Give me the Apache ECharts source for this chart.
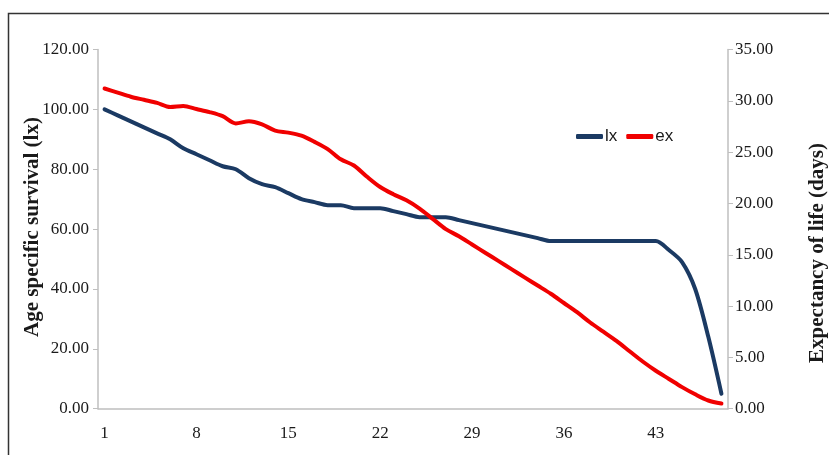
<!DOCTYPE html>
<html>
<head>
<meta charset="utf-8">
<script src="https://cdn.jsdelivr.net/npm/echarts@6/dist/echarts.min.js"></script>
<style>
  html, body { margin: 0; padding: 0; background: #ffffff; }
  #chart { width: 829px; height: 455px; }
</style>
</head>
<body>
<div id="chart"></div>
<script>
// Day of life (age class)
const days = Array.from({ length: 48 }, (_, i) => String(i + 1));

// Age specific survival (lx), left axis
const lx = [100, 98, 96, 94, 92, 90, 87, 85, 83, 81,
            80, 77, 75, 74, 72, 70, 69, 68, 68, 67,
            67, 67, 66, 65, 64, 64, 64, 63, 62, 61,
            60, 59, 58, 57, 56, 56, 56, 56, 56, 56,
            56, 56, 56, 53, 49, 40, 24, 5];

// Expectancy of life in days (ex), right axis
const ex = [31.2, 30.8, 30.4, 30.1, 29.8, 29.4, 29.5, 29.2, 28.9, 28.5,
            27.8, 28.0, 27.7, 27.1, 26.9, 26.6, 26.0, 25.3, 24.3, 23.7,
            22.6, 21.6, 20.9, 20.3, 19.5, 18.5, 17.5, 16.8, 16.0, 15.2,
            14.4, 13.6, 12.8, 12.0, 11.2, 10.3, 9.4, 8.4, 7.5, 6.6,
            5.6, 4.6, 3.7, 2.9, 2.1, 1.4, 0.8, 0.5];

const serif = "'Liberation Serif', 'Times New Roman', serif";
const axisGrey = '#bfbfbf';
const textColor = '#1a1a1a';

const chart = echarts.init(document.getElementById('chart'), null, { renderer: 'canvas' });

chart.setOption({
  animation: false,
  backgroundColor: '#ffffff',
  grid: { left: 98, right: 101, top: 49.5, bottom: 46.3, containLabel: false },
  legend: {
    data: ['lx', 'ex'],
    left: 571,
    top: 123,
    icon: 'roundRect',
    itemWidth: 27,
    itemHeight: 5,
    itemGap: 9,
    textStyle: {
      fontFamily: "'Liberation Sans Narrow', 'Arial Narrow', 'Liberation Sans', sans-serif",
      fontSize: 17,
      color: textColor,
      padding: [0, 0, 0, -3]
    }
  },
  xAxis: {
    type: 'category',
    data: days,
    boundaryGap: true,
    axisLine: { lineStyle: { color: axisGrey, width: 1.5 } },
    axisTick: { show: false },
    axisLabel: { interval: 6, margin: 16, fontFamily: serif, fontSize: 17, color: textColor },
    splitLine: { show: false }
  },
  yAxis: [
    {
      type: 'value',
      min: 0, max: 120, interval: 20,
      axisLine: { show: true, lineStyle: { color: axisGrey, width: 1.5 } },
      axisTick: { show: true, length: 5, lineStyle: { color: axisGrey } },
      axisLabel: { margin: 9, fontFamily: serif, fontSize: 17, color: textColor,
                   formatter: v => v.toFixed(2) },
      splitLine: { show: false }
    },
    {
      type: 'value',
      min: 0, max: 35, interval: 5,
      position: 'right',
      axisLine: { show: true, lineStyle: { color: axisGrey, width: 1.5 } },
      axisTick: { show: true, length: 5, lineStyle: { color: axisGrey } },
      axisLabel: { margin: 7, fontFamily: serif, fontSize: 17, color: textColor,
                   formatter: v => v.toFixed(2) },
      splitLine: { show: false }
    }
  ],
  series: [
    {
      name: 'lx', type: 'line', yAxisIndex: 0, data: lx,
      smooth: 0.3, symbol: 'none',
      lineStyle: { color: '#1b3a63', width: 4, cap: 'round', join: 'round' },
      itemStyle: { color: '#1b3a63' }
    },
    {
      name: 'ex', type: 'line', yAxisIndex: 1, data: ex,
      smooth: 0.3, symbol: 'none',
      lineStyle: { color: '#f00000', width: 4, cap: 'round', join: 'round' },
      itemStyle: { color: '#f00000' }
    }
  ],
  graphic: [
    {
      type: 'rect', silent: true, z: -1,
      shape: { x: 8.5, y: 13.5, width: 900, height: 600 },
      style: { fill: 'none', stroke: '#333333', lineWidth: 1.5 }
    },
    {
      type: 'text', x: 33, y: 227, rotation: Math.PI / 2,
      style: { text: 'Age specific survival (lx)', font: 'bold 21px ' + serif,
               fill: textColor, align: 'center', verticalAlign: 'middle' }
    },
    {
      type: 'text', x: 818, y: 253, rotation: Math.PI / 2,
      style: { text: 'Expectancy of life (days)', font: 'bold 21px ' + serif,
               fill: textColor, align: 'center', verticalAlign: 'middle' }
    }
  ]
});
</script>
</body>
</html>
